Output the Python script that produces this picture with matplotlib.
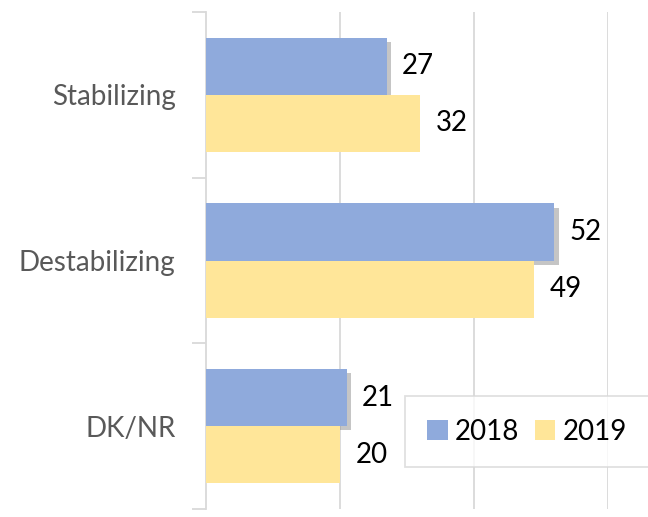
import matplotlib.pyplot as plt
import matplotlib.patheffects as pe
from matplotlib.patches import Patch
import numpy as np

categories = ["Stabilizing", "Destabilizing", "DK/NR"]
v2018 = [27, 52, 21]
v2019 = [32, 49, 20]
series = ["2018", "2019"]
colors = ['#8FAADC', '#FFE699']

plt.rcParams['font.family'] = ['Lato', 'DejaVu Sans']

fig = plt.figure(figsize=(6.48, 5.17), dpi=100)
ax = fig.add_axes([206/648, 8/517, 402/648, 497/517])

y = np.arange(len(categories))
h = 0.345
shadow = [pe.SimplePatchShadow(offset=(3, -3), shadow_rgbFace='#8c8c8c', alpha=0.5), pe.Normal()]
b1 = ax.barh(y - h/2, v2018, height=h, color=colors[0], zorder=3)
for p in b1:
    p.set_path_effects(shadow)
b2 = ax.barh(y + h/2, v2019, height=h, color=colors[1], zorder=4)

ax.bar_label(b1, padding=11, fontsize=20, color='black')
ax.bar_label(b2, padding=11, fontsize=20, color='black')

ax.set_xlim(0, 60)
ax.set_ylim(2.5, -0.5)
ax.set_xticks([20, 40, 60])
ax.tick_params(axis='x', length=0, labelbottom=False)
ax.grid(axis='x', color='#D9D9D9', linewidth=1.3, zorder=0)
ax.set_yticks(y)
ax.set_yticklabels(categories, fontsize=20, color='#595959')
ax.tick_params(axis='y', which='major', length=0, pad=22)
ax.set_yticks([-0.5, 0.5, 1.5, 2.5], minor=True)
ax.tick_params(axis='y', which='minor', length=10, color='#D9D9D9', width=1.3)
for s in ['top', 'right', 'bottom']:
    ax.spines[s].set_visible(False)
ax.spines['left'].set_color('#D9D9D9')
ax.spines['left'].set_linewidth(1.3)

handles = [Patch(facecolor=c, label=s) for c, s in zip(colors, series)]
leg = ax.legend(handles=handles, loc='center', bbox_to_anchor=(527/648, 1 - 431.5/517),
                bbox_transform=fig.transFigure, ncol=2, fontsize=20, frameon=True,
                fancybox=False, edgecolor='#D9D9D9', handlelength=0.75, handleheight=0.75,
                handletextpad=0.25, columnspacing=0.55, borderpad=0.8, borderaxespad=0)
leg.get_frame().set_linewidth(1.3)

fig.savefig("out.png")
